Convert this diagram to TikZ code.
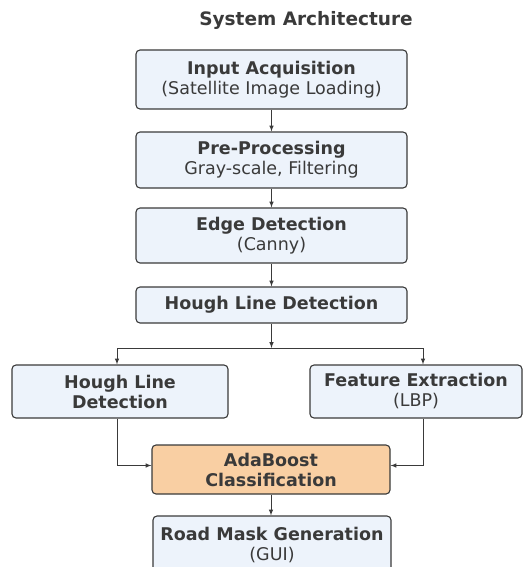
\documentclass[tikz,border=0pt]{standalone}
\usepackage{fontspec}
\setmainfont{DejaVu Sans}
\usepgflibrary{arrows}
\usetikzlibrary{calc}
\definecolor{boxblue}{HTML}{EDF3FB}
\definecolor{boxorange}{HTML}{F9CFA3}
\definecolor{inkgray}{HTML}{3A3A3A}

\begin{document}
\begin{tikzpicture}[x=1pt,y=-1pt,
  box/.style={draw=inkgray, line width=1.1pt, rounded corners=4pt, fill=boxblue,
    align=center, inner sep=0pt, text=inkgray, font=\fontsize{17.5}{20}\selectfont},
  arr/.style={-latex, line width=1pt, draw=inkgray}]
\useasboundingbox (0,0) rectangle (526,567);
% title
\node[text=inkgray] (title) at (306,20) {\fontsize{18.5}{20}\selectfont\bfseries System Architecture};
% main column
\node[box, minimum width=271, minimum height=59] (input) at (271.5,79.5)
  {\textbf{Input Acquisition}\\(Satellite Image Loading)};
\node[box, minimum width=271, minimum height=56] (pre) at (271.5,160)
  {\textbf{Pre-Processing}\\Gray-scale, Filtering};
\node[box, minimum width=271, minimum height=55] (edge) at (271.5,235.5)
  {\textbf{Edge Detection}\\(Canny)};
\node[box, minimum width=271, minimum height=36] (hough) at (271.5,305)
  {\textbf{Hough Line Detection}};
% the two branches
\node[box, minimum width=216, minimum height=53] (houghb) at (120,391.5)
  {\textbf{Hough Line}\\\textbf{Detection}};
\node[box, minimum width=212, minimum height=53] (feat) at (416,391.5)
  {\textbf{Feature Extraction}\\(LBP)};
% classifier and output
\node[box, fill=boxorange, minimum width=238, minimum height=49] (ada) at (271,469.5)
  {\textbf{AdaBoost}\\\textbf{Classification}};
\node[box, minimum width=238, minimum height=57] (road) at (272,544.5)
  {\textbf{Road Mask Generation}\\(GUI)};
\coordinate (split) at (271.5,348);
\coordinate (lx) at (117,348);
\coordinate (rx) at (423,348);
% arrows
\draw[arr] (input) -- (pre);
\draw[arr] (pre) -- (edge);
\draw[arr] (edge) -- (hough);
\draw[arr] (hough) -- (split);
\draw[line width=1pt, draw=inkgray] (lx) -- (rx);
\draw[arr] (lx) -- (lx |- houghb.north);
\draw[arr] (rx) -- (rx |- feat.north);
\draw[arr] (lx |- houghb.south) |- ($(ada.west)+(0,-4)$);
\draw[arr] (rx |- feat.south) |- ($(ada.east)+(0,-4)$);
\draw[arr] (ada) -- (ada |- road.north);
\end{tikzpicture}
\end{document}
